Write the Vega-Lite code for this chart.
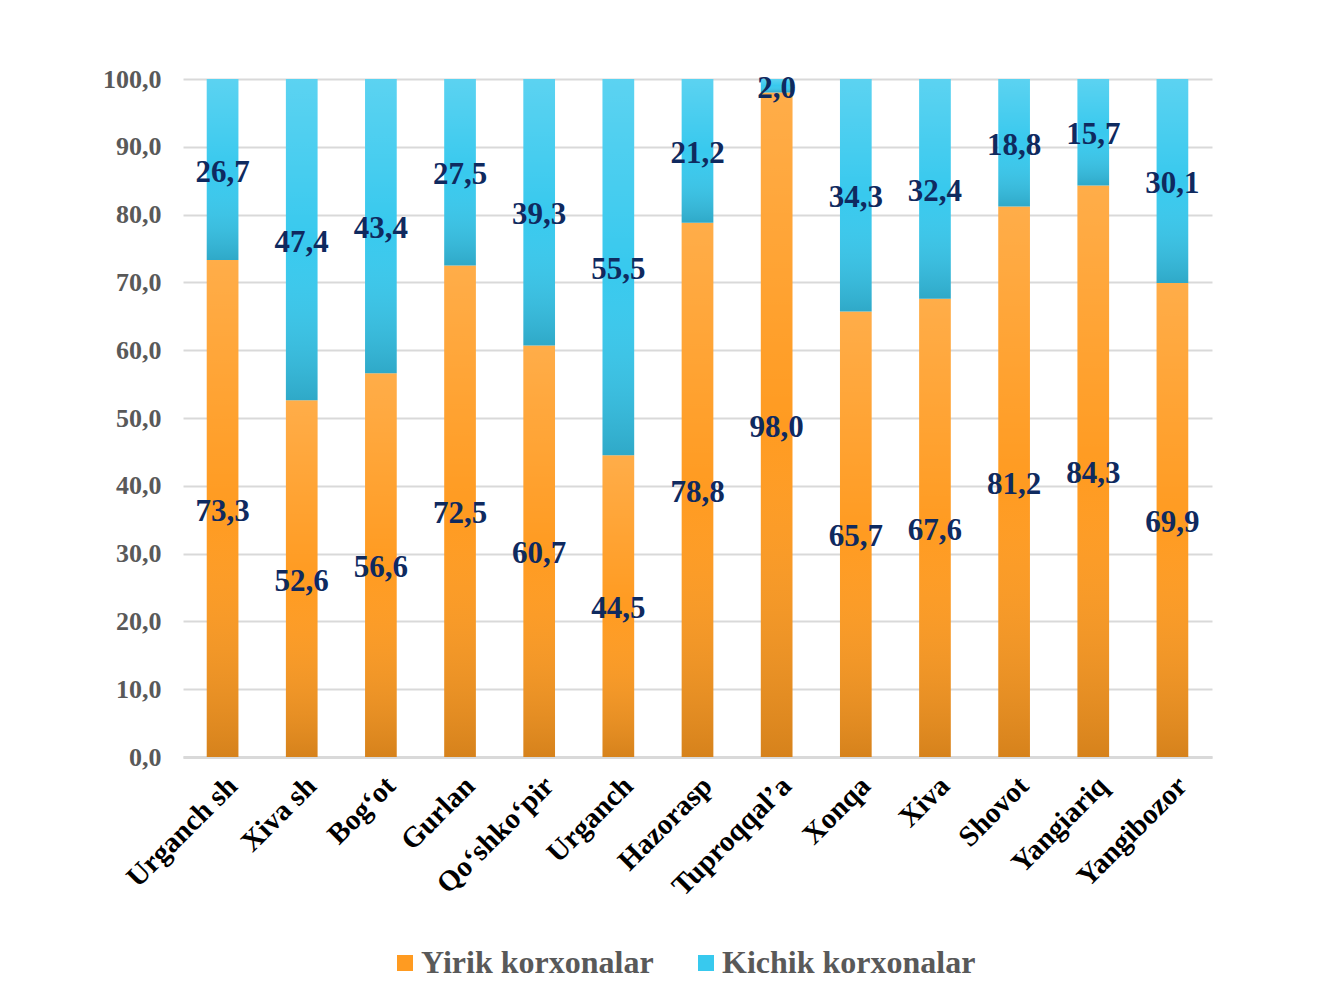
{
  "$schema": "https://vega.github.io/schema/vega-lite/v6.json",
  "width": 1029,
  "height": 678,
  "autosize": {"type": "none"},
  "padding": {"left": 183, "top": 79, "right": 127, "bottom": 241},
  "background": "white",
  "config": {
    "locale": {"number": {"decimal": ",", "thousands": " ", "grouping": [3], "currency": ["", ""]}},
    "view": {"stroke": null},
    "font": "Liberation Serif"
  },
  "data": {
    "values": [
      {"d": "Urganch sh", "s": "Yirik korxonalar", "v": 73.3},
      {"d": "Urganch sh", "s": "Kichik korxonalar", "v": 26.7},
      {"d": "Xiva sh", "s": "Yirik korxonalar", "v": 52.6},
      {"d": "Xiva sh", "s": "Kichik korxonalar", "v": 47.4},
      {"d": "Bog‘ot", "s": "Yirik korxonalar", "v": 56.6},
      {"d": "Bog‘ot", "s": "Kichik korxonalar", "v": 43.4},
      {"d": "Gurlan", "s": "Yirik korxonalar", "v": 72.5},
      {"d": "Gurlan", "s": "Kichik korxonalar", "v": 27.5},
      {"d": "Qo‘shko‘pir", "s": "Yirik korxonalar", "v": 60.7},
      {"d": "Qo‘shko‘pir", "s": "Kichik korxonalar", "v": 39.3},
      {"d": "Urganch", "s": "Yirik korxonalar", "v": 44.5},
      {"d": "Urganch", "s": "Kichik korxonalar", "v": 55.5},
      {"d": "Hazorasp", "s": "Yirik korxonalar", "v": 78.8},
      {"d": "Hazorasp", "s": "Kichik korxonalar", "v": 21.2},
      {"d": "Tuproqqal’a", "s": "Yirik korxonalar", "v": 98.0},
      {"d": "Tuproqqal’a", "s": "Kichik korxonalar", "v": 2.0},
      {"d": "Xonqa", "s": "Yirik korxonalar", "v": 65.7},
      {"d": "Xonqa", "s": "Kichik korxonalar", "v": 34.3},
      {"d": "Xiva", "s": "Yirik korxonalar", "v": 67.6},
      {"d": "Xiva", "s": "Kichik korxonalar", "v": 32.4},
      {"d": "Shovot", "s": "Yirik korxonalar", "v": 81.2},
      {"d": "Shovot", "s": "Kichik korxonalar", "v": 18.8},
      {"d": "Yangiariq", "s": "Yirik korxonalar", "v": 84.3},
      {"d": "Yangiariq", "s": "Kichik korxonalar", "v": 15.7},
      {"d": "Yangibozor", "s": "Yirik korxonalar", "v": 69.9},
      {"d": "Yangibozor", "s": "Kichik korxonalar", "v": 30.1}
    ]
  },
  "encoding": {
    "x": {
      "field": "d", "type": "nominal", "sort": null,
      "scale": {"paddingInner": 0.6, "paddingOuter": 0.3},
      "axis": {
        "title": null, "labelAngle": -45, "labelFont": "Liberation Serif", "labelFontSize": 29,
        "labelFontWeight": "bold", "labelColor": "#000000", "ticks": false, "domain": true,
        "domainColor": "#D9D9D9", "domainWidth": 3, "labelPadding": 14, "labelLimit": 400
      }
    }
  },
  "layer": [
    {
      "mark": {"type": "bar"},
      "encoding": {
        "y": {
          "field": "v", "type": "quantitative", "stack": "zero",
          "scale": {"domain": [0, 100], "nice": false},
          "axis": {
            "title": null, "values": [0, 10, 20, 30, 40, 50, 60, 70, 80, 90, 100], "format": ".1f",
            "labelFont": "Liberation Serif", "labelFontSize": 26, "labelFontWeight": "bold",
            "labelColor": "#595959", "labelPadding": 22, "ticks": false, "domain": false,
            "gridColor": "#D9D9D9", "gridWidth": 2
          }
        },
        "color": {
          "field": "s", "type": "nominal",
          "scale": {"domain": ["Yirik korxonalar", "Kichik korxonalar"], "range": ["#FF9B21", "#38C9EE"]},
          "legend": {
            "title": null, "orient": "none", "direction": "horizontal", "legendX": 206, "legendY": 868,
            "labelFont": "Liberation Serif", "labelFontSize": 32, "labelFontWeight": "bold",
            "labelColor": "#595959", "symbolType": "square", "symbolSize": 256, "labelOffset": 0,
            "columnPadding": 36, "symbolStrokeWidth": 0, "labelLimit": 400
          }
        },
        "order": {"field": "s", "sort": "descending"}
      }
    },
    {
      "mark": {
        "type": "bar",
        "color": {
          "x1": 0, "y1": 0, "x2": 0, "y2": 1, "gradient": "linear",
          "stops": [
            {"offset": 0, "color": "rgba(255,255,255,0.18)"},
            {"offset": 0.5, "color": "rgba(255,255,255,0)"},
            {"offset": 1, "color": "rgba(0,0,0,0.16)"}
          ]
        }
      },
      "encoding": {
        "y": {"field": "v", "type": "quantitative", "stack": "zero", "scale": {"domain": [0, 100], "nice": false}, "axis": null},
        "order": {"field": "s", "sort": "descending"},
        "detail": {"field": "s"}
      }
    },
    {
      "transform": [{"filter": "datum.s == 'Yirik korxonalar'"}],
      "mark": {"type": "text", "font": "Liberation Serif", "fontSize": 31, "fontWeight": "bold", "color": "#0F2A5F", "baseline": "middle", "dy": 3},
      "encoding": {
        "y": {"field": "v", "type": "quantitative", "scale": {"domain": [0, 200], "nice": false}, "axis": null},
        "text": {"field": "v", "type": "quantitative", "format": ".1f"}
      }
    },
    {
      "transform": [{"filter": "datum.s == 'Kichik korxonalar'"}],
      "mark": {"type": "text", "font": "Liberation Serif", "fontSize": 31, "fontWeight": "bold", "color": "#0F2A5F", "baseline": "middle", "dy": 3},
      "encoding": {
        "y": {"field": "v", "type": "quantitative", "scale": {"domain": [200, 0], "nice": false}, "axis": null},
        "text": {"field": "v", "type": "quantitative", "format": ".1f"}
      }
    }
  ],
  "resolve": {"scale": {"y": "independent"}}
}
